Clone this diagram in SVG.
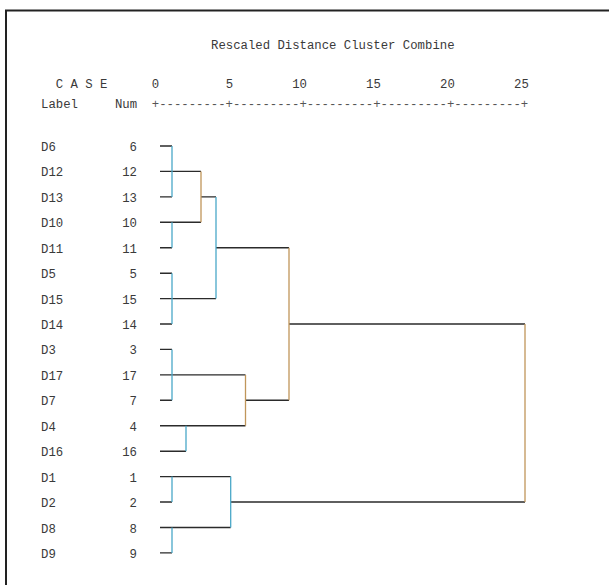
<svg xmlns="http://www.w3.org/2000/svg" width="609" height="585" viewBox="0 0 609 585">
<style>
text{font-family:"Liberation Mono","Courier New",monospace;font-size:12.3px;fill:#3a3a3a}
.num{text-anchor:end}
.h{stroke:#2b2b2b;stroke-width:1.4;fill:none}
.vb{stroke:#4aa8c8;stroke-width:1.3;fill:none}
.vt{stroke:#c0965a;stroke-width:1.3;fill:none}
.axis{fill:#555}
</style>
<rect width="609" height="585" fill="#fff"/>
<path d="M6,600 V10.5 H620" fill="none" stroke="#222" stroke-width="2"/>
<g id="header">
<text x="211" y="49">Rescaled Distance Cluster Combine</text>
<text x="55.8" y="88">C A S E</text>
<text x="151.8" y="88">0</text>
<text x="225.7" y="88">5</text>
<text x="292.2" y="88">10</text>
<text x="366.1" y="88">15</text>
<text x="440" y="88">20</text>
<text x="514" y="88">25</text>
<text x="41" y="108">Label</text>
<text x="114.9" y="108">Num</text>
<text class="axis" x="151.8" y="108" xml:space="preserve">+---------+---------+---------+---------+---------+</text>
</g>
<g id="D6"><text x="41" y="151">D6</text><text class="num" x="137" y="151">6</text></g>
<g id="D12"><text x="41" y="176.4">D12</text><text class="num" x="137" y="176.4">12</text></g>
<g id="D13"><text x="41" y="201.9">D13</text><text class="num" x="137" y="201.9">13</text></g>
<g id="D10"><text x="41" y="227.3">D10</text><text class="num" x="137" y="227.3">10</text></g>
<g id="D11"><text x="41" y="252.7">D11</text><text class="num" x="137" y="252.7">11</text></g>
<g id="D5"><text x="41" y="278.2">D5</text><text class="num" x="137" y="278.2">5</text></g>
<g id="D15"><text x="41" y="303.6">D15</text><text class="num" x="137" y="303.6">15</text></g>
<g id="D14"><text x="41" y="329">D14</text><text class="num" x="137" y="329">14</text></g>
<g id="D3"><text x="41" y="354.4">D3</text><text class="num" x="137" y="354.4">3</text></g>
<g id="D17"><text x="41" y="379.9">D17</text><text class="num" x="137" y="379.9">17</text></g>
<g id="D7"><text x="41" y="405.3">D7</text><text class="num" x="137" y="405.3">7</text></g>
<g id="D4"><text x="41" y="430.7">D4</text><text class="num" x="137" y="430.7">4</text></g>
<g id="D16"><text x="41" y="456.2">D16</text><text class="num" x="137" y="456.2">16</text></g>
<g id="D1"><text x="41" y="481.6">D1</text><text class="num" x="137" y="481.6">1</text></g>
<g id="D2"><text x="41" y="507">D2</text><text class="num" x="137" y="507">2</text></g>
<g id="D8"><text x="41" y="532.5">D8</text><text class="num" x="137" y="532.5">8</text></g>
<g id="D9"><text x="41" y="557.9">D9</text><text class="num" x="137" y="557.9">9</text></g>
<g id="connectors">
<path class="h" d="M160,146H172 M160,171.4H201 M160,196.9H172 M160,222.3H201 M160,247.7H172 M201,196.9H216 M160,273.2H172 M160,298.6H216 M160,324H172 M216,247.7H289 M160,349.4H172 M160,374.9H245.5 M160,400.3H172 M160,425.7H245.5 M160,451.2H186 M245.5,400.3H289 M289,324H525 M160,476.6H230.7 M160,502H172 M160,527.5H230.7 M160,552.9H172 M230.7,502H525"/>
<path class="vb" d="M172,146V196.9 M172,222.3V247.7 M172,273.2V324 M216,196.9V298.6 M172,349.4V400.3 M186,425.7V451.2 M172,476.6V502 M172,527.5V552.9 M230.7,476.6V527.5"/>
<path class="vt" d="M201,171.4V222.3 M245.5,374.9V425.7 M289,247.7V400.3 M525,324V502"/>
</g>
</svg>
